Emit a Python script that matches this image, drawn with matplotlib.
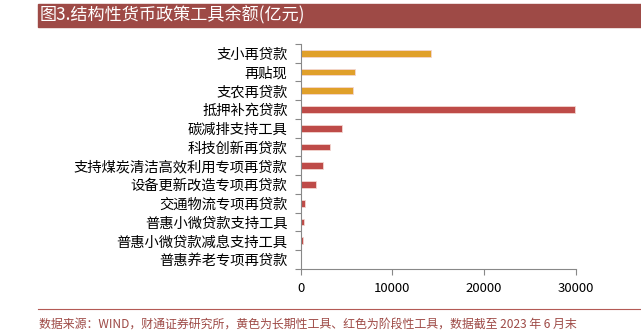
import matplotlib
matplotlib.use("Agg")
import matplotlib.pyplot as plt
import numpy as np

plt.rcParams['font.family'] = ['Noto Sans CJK SC', 'DejaVu Sans']

categories = ["支小再贷款", "再贴现", "支农再贷款", "抵押补充贷款", "碳减排支持工具",
              "科技创新再贷款", "支持煤炭清洁高效利用专项再贷款", "设备更新改造专项再贷款",
              "交通物流专项再贷款", "普惠小微贷款支持工具", "普惠小微贷款减息支持工具",
              "普惠养老专项再贷款"]
values = [14200, 5950, 5670, 29960, 4500, 3200, 2470, 1670, 430, 360, 220, 10]
kinds = ["long", "long", "long", "stage", "stage", "stage", "stage", "stage",
         "stage", "stage", "stage", "stage"]
xticks = [0, 10000, 20000, 30000]
title = "图3.结构性货币政策工具余额(亿元)"
source = "数据来源：WIND，财通证券研究所，黄色为长期性工具、红色为阶段性工具，数据截至 2023 年 6 月末"

color_map = {"long": "#E0A02A", "stage": "#BE4B48"}

W, H = 641, 335
fig = plt.figure(figsize=(W / 100, H / 100), dpi=100)

# title bar
fig.patches.append(matplotlib.patches.Rectangle((38 / W, 1 - 27 / H), (W - 38) / W, 23 / H,
                                                transform=fig.transFigure, color="#9E4A46",
                                                zorder=0))
fig.text(40 / W, 1 - 15.5 / H, title, color="white", fontsize=12.3, va="center", ha="left")

# footer
fig.add_artist(matplotlib.lines.Line2D([38 / W, 1], [1 - 309 / H, 1 - 309 / H],
                                       transform=fig.transFigure, color="#B45A55", lw=0.8))
fig.text(39 / W, 1 - 324 / H, source, color="#9E4A46", fontsize=8.6, va="center", ha="left")

ax = fig.add_axes([300.7 / W, 1 - 269 / H, 275 / W, 225 / H])
n = len(categories)
y = np.arange(n)
ax.barh(y, values, height=0.36, color=[color_map[k] for k in kinds],
        edgecolor="#F3D6D0", linewidth=0.6)
ax.set_ylim(n - 0.5, -0.5)
ax.set_xlim(0, 30000)
ax.set_yticks(y)
ax.set_yticklabels(categories, fontsize=10.3)
ax.set_yticks(np.arange(n + 1) - 0.5, minor=True)
ax.tick_params(axis="y", which="major", length=0, pad=9.5)
ax.tick_params(axis="y", which="minor", length=4, color="#888888", width=0.8)
ax.set_xticks(xticks)
ax.set_xticklabels([str(v) for v in xticks], fontsize=9.5)
ax.tick_params(axis="x", length=4, color="#888888", width=0.8, pad=5)
for s in ["top", "right"]:
    ax.spines[s].set_visible(False)
for s in ["left", "bottom"]:
    ax.spines[s].set_color("#888888")
    ax.spines[s].set_linewidth(0.8)

fig.savefig("out.png", dpi=100)
